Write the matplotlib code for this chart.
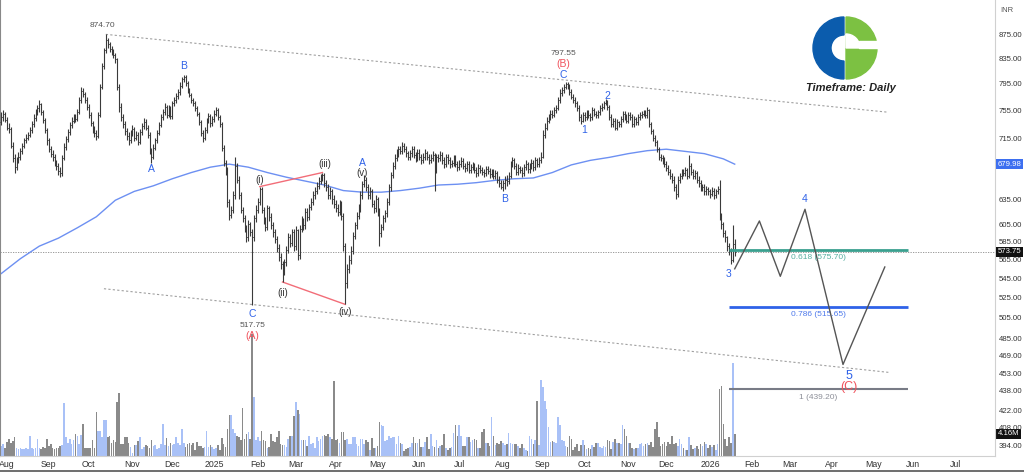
import numpy as np
import pandas as pd
import matplotlib
matplotlib.use("Agg")
import matplotlib.pyplot as plt
import matplotlib.transforms as mtransforms
from matplotlib.patches import Wedge, Rectangle
from matplotlib.lines import Line2D
from matplotlib.ticker import NullLocator

plt.rcParams['font.family'] = ['Liberation Sans', 'DejaVu Sans']

# daily bars, first bar 29 Jul 2024 (business days)
first_day = "2024-07-29"

closes = (
    [745, 750, 741]  # Jul 24
    + [730, 728, 705, 688, 676, 685, 690, 698, 705, 712, 716, 720, 726, 735, 744, 752, 758, 764, 752, 741, 726, 712]
    + [700, 694, 689, 682, 677, 671, 668, 688, 703, 714, 724, 733, 740, 745, 742, 752, 770, 783, 779, 770, 760]
    + [748, 736, 727, 722, 718, 748, 790, 822, 848, 866, 858, 850, 846, 840, 834, 790, 760, 745, 735, 725, 718, 712, 722]
    + [728, 715, 720, 710, 724, 732, 738, 730, 720, 698, 690, 702, 712, 722, 734, 745, 752, 760, 748, 758, 746]
    + [765, 770, 776, 782, 792, 802, 806, 796, 785, 778, 770, 765, 758, 750, 738, 722, 716, 726, 740, 746, 736, 742]
    + [750, 755, 745, 735, 702, 682, 672, 632, 616, 622, 640, 678, 660, 640, 622, 612, 600, 590, 606, 596, 590, 612, 622]
    + [632, 648, 622, 610, 602, 624, 614, 604, 596, 588, 578, 568, 560, 552, 562, 576, 590, 584, 596, 580]
    + [598, 570, 600, 610, 604, 620, 614, 626, 632, 640, 646, 652, 658, 662, 666, 655, 650, 640, 645, 635, 630]
    + [625, 620, 630, 615, 580, 540, 555, 565, 575, 592, 604, 615, 625, 640, 654, 660, 650, 640, 645, 630, 625, 635]
    + [620, 595, 602, 612, 618, 632, 650, 666, 678, 688, 695, 700, 698, 705, 700, 695, 690, 695, 700, 692, 688, 695]
    + [690, 685, 690, 695, 690, 685, 688, 692, 672, 690, 688, 692, 685, 680, 690, 685, 680, 682, 688, 680, 676]
    + [680, 684, 678, 675, 680, 672, 676, 678, 672, 668, 675, 672, 670, 668, 674, 671, 667, 670, 665, 668, 660, 655, 650]
    + [656, 660, 658, 665, 680, 685, 678, 670, 675, 672, 668, 676, 680, 673, 678, 682, 676, 685, 680, 685, 690]
    + [720, 730, 740, 745, 750, 748, 755, 758, 770, 780, 785, 790, 795, 792, 782, 775, 770, 765, 758, 745, 740, 748]
    + [745, 752, 748, 745, 755, 750, 748, 752, 758, 760, 765, 768, 760, 745, 735, 740, 730, 738, 735, 742, 750, 745, 740]
    + [748, 745, 735, 742, 738, 745, 748, 750, 752, 748, 755, 735, 725, 715, 710, 700, 690, 688, 685, 680]
    + [675, 670, 665, 660, 650, 642, 660, 665, 670, 668, 672, 665, 678, 670, 665, 668, 660, 655, 650, 650, 645, 648, 645]
    + [642, 646, 640, 645, 648, 615, 605, 595, 590, 580, 575, 565, 582, 573.75]
)

highs = (
    [752, 756, 752]
    + [745, 736, 731, 710, 694, 690, 696, 702, 709, 716, 721, 724, 731, 740, 749, 757, 763, 770, 766, 756, 744, 730]
    + [716, 705, 699, 694, 686, 681, 676, 692, 708, 718, 728, 738, 745, 750, 750, 757, 775, 790, 788, 782, 774]
    + [764, 752, 740, 732, 726, 752, 795, 827, 852, 874.7, 868, 862, 855, 850, 844, 836, 795, 765, 750, 740, 730, 724, 727]
    + [734, 731, 725, 724, 728, 737, 743, 742, 733, 724, 702, 707, 716, 727, 738, 749, 757, 766, 763, 763, 761]
    + [769, 775, 780, 787, 797, 806, 808, 809, 799, 789, 781, 773, 768, 761, 753, 741, 727, 731, 744, 751, 749, 747]
    + [755, 760, 758, 748, 738, 706, 686, 676, 636, 627, 645, 690, 682, 664, 644, 626, 616, 604, 610, 608, 600, 616, 628]
    + [637, 651, 650, 626, 614, 628, 627, 618, 608, 600, 592, 582, 572, 564, 566, 580, 595, 594, 600, 600]
    + [603, 600, 604, 615, 613, 625, 624, 630, 637, 645, 651, 657, 663, 667, 669, 668, 659, 654, 650, 648, 640]
    + [634, 630, 634, 633, 618, 584, 560, 570, 580, 596, 608, 620, 630, 645, 658, 666, 663, 654, 650, 648, 634, 640]
    + [638, 624, 606, 616, 622, 637, 654, 670, 683, 693, 700, 705, 704, 710, 708, 704, 698, 699, 705, 704, 696, 700]
    + [700, 694, 695, 700, 698, 694, 693, 697, 695, 694, 694, 697, 696, 690, 694, 694, 689, 686, 692, 692, 684]
    + [685, 689, 688, 682, 684, 684, 680, 683, 682, 676, 680, 679, 676, 674, 678, 677, 675, 674, 674, 672, 671, 664, 659]
    + [660, 664, 666, 670, 684, 690, 688, 682, 680, 678, 676, 680, 685, 683, 682, 687, 686, 690, 688, 690, 696]
    + [726, 736, 745, 750, 755, 756, 760, 763, 775, 786, 790, 795, 797.55, 797, 794, 786, 779, 774, 769, 762, 750, 752]
    + [752, 756, 755, 751, 759, 758, 754, 756, 762, 765, 769, 772, 770, 762, 749, 744, 743, 742, 740, 746, 754, 754, 749]
    + [752, 753, 749, 746, 745, 749, 752, 754, 756, 755, 759, 757, 738, 728, 719, 713, 703, 694, 692, 689]
    + [684, 679, 674, 669, 664, 654, 664, 669, 674, 674, 676, 675, 692, 682, 673, 672, 671, 664, 659, 654, 654, 652, 651]
    + [648, 650, 649, 648, 652, 659, 618, 608, 598, 592, 583, 578, 604, 588]
)

lows = (
    [734, 740, 738]
    + [726, 722, 702, 683, 668, 672, 682, 686, 694, 701, 708, 713, 717, 722, 731, 740, 748, 752, 748, 737, 722, 706]
    + [696, 689, 684, 677, 672, 666, 663, 665, 685, 699, 710, 720, 729, 736, 738, 739, 750, 766, 774, 765, 755]
    + [744, 732, 722, 717, 712, 715, 745, 786, 818, 844, 852, 845, 840, 835, 828, 785, 752, 740, 730, 720, 712, 706, 709]
    + [718, 711, 712, 706, 707, 720, 728, 726, 716, 694, 682, 687, 699, 709, 719, 731, 741, 748, 744, 745, 742]
    + [742, 761, 766, 772, 778, 788, 798, 792, 781, 774, 766, 761, 754, 746, 734, 718, 710, 713, 722, 736, 731, 732]
    + [738, 746, 741, 731, 698, 677, 666, 626, 610, 612, 618, 636, 656, 636, 618, 608, 596, 585, 586, 592, 517.75, 586, 608]
    + [618, 628, 618, 605, 597, 598, 609, 600, 590, 583, 573, 563, 555, 541, 548, 558, 572, 579, 580, 575]
    + [576, 565, 566, 596, 599, 600, 609, 610, 622, 628, 636, 642, 648, 654, 658, 650, 645, 636, 636, 630, 625]
    + [620, 615, 616, 610, 575, 518, 535, 550, 560, 571, 588, 600, 611, 620, 636, 650, 645, 635, 636, 626, 618, 620]
    + [615, 580, 590, 598, 608, 614, 628, 646, 662, 674, 684, 690, 693, 694, 696, 690, 685, 686, 690, 688, 683, 684]
    + [686, 680, 681, 686, 686, 680, 682, 684, 646, 668, 683, 684, 680, 675, 676, 680, 675, 676, 678, 676, 671]
    + [672, 676, 674, 670, 671, 668, 668, 672, 668, 663, 664, 668, 666, 663, 664, 667, 662, 663, 661, 661, 656, 650, 648]
    + [646, 648, 652, 654, 662, 676, 674, 666, 666, 668, 663, 664, 672, 669, 668, 674, 671, 672, 676, 676, 681]
    + [688, 716, 726, 736, 741, 743, 745, 751, 756, 766, 776, 781, 786, 787, 778, 771, 765, 760, 754, 740, 735, 738]
    + [740, 741, 744, 740, 741, 746, 744, 744, 748, 754, 757, 762, 756, 741, 731, 731, 726, 727, 731, 731, 738, 741, 736]
    + [736, 741, 731, 731, 734, 734, 741, 744, 746, 744, 744, 731, 721, 711, 705, 696, 686, 684, 680, 676]
    + [671, 666, 661, 655, 645, 636, 638, 656, 661, 664, 664, 661, 662, 666, 661, 661, 656, 651, 646, 645, 640, 641, 641]
    + [637, 639, 636, 637, 642, 610, 600, 590, 585, 575, 570, 560, 562, 569]
)

# volume in millions
volumes = (
    [1.8, 2.2, 1.6]
    + [2.6, 3.3, 2.4, 2.9, 3.5, 1.6, 1.4, 1.5, 1.3, 1.4, 1.6, 1.3, 3.8, 1.5, 1.4, 1.6, 3.2, 1.5, 1.4, 1.7, 1.5, 3.3]
    + [1.8, 2.3, 1.5, 1.4, 1.6, 1.5, 1.8, 2.0, 10.0, 3.5, 2.4, 3.2, 2.3, 3.0, 4.2, 3.8, 2.2, 4.0, 6.1, 1.6, 1.5]
    + [1.5, 1.6, 3.1, 1.6, 8.3, 4.8, 4.8, 3.5, 6.7, 6.7, 3.5, 3.8, 2.4, 3.0, 2.7, 10.1, 11.9, 2.3, 2.2, 3.5, 3.6, 2.4, 1.7]
    + [0.6, 2.0, 2.0, 2.8, 3.5, 1.3, 1.7, 2.0, 1.8, 1.5, 3.0, 1.8, 2.0, 1.4, 1.6, 2.2, 6.0, 2.0, 3.4, 1.8, 2.4]
    + [2.0, 2.2, 3.5, 2.4, 2.0, 5.1, 2.4, 1.7, 2.2, 2.4, 2.0, 2.4, 1.2, 2.6, 1.8, 1.8, 1.5, 1.7, 4.7, 1.7, 2.0, 1.7]
    + [1.3, 1.5, 2.0, 1.2, 3.4, 2.2, 1.7, 5.0, 7.7, 7.7, 5.1, 4.4, 3.8, 3.5, 3.0, 9.0, 3.2, 4.2, 4.6, 3.2, 23.0, 11.2, 3.0]
    + [3.5, 2.8, 4.8, 3.1, 2.8, 1.5, 1.7, 4.2, 2.8, 2.6, 3.5, 4.7, 2.2, 2.0, 2.0, 1.7, 3.2, 3.8, 3.8, 7.5]
    + [10.1, 8.6, 7.9, 3.1, 3.0, 3.0, 1.8, 3.8, 2.2, 2.4, 1.5, 3.5, 2.8, 3.3, 3.8, 4.0, 3.8, 4.2, 3.6, 3.2, 14.1]
    + [3.0, 3.3, 2.5, 4.5, 4.6, 3.0, 3.2, 2.2, 2.2, 3.5, 3.5, 2.2, 1.8, 3.2, 3.3, 2.3, 3.0, 2.6, 1.2, 3.4, 1.5, 1.6]
    + [1.8, 6.5, 5.9, 5.7, 2.8, 3.0, 3.7, 3.4, 3.5, 3.5, 2.2, 3.7, 2.4, 2.2, 1.0, 1.4, 1.5, 1.7, 2.5, 3.5, 2.5, 2.5]
    + [3.2, 1.7, 1.7, 2.6, 3.5, 1.4, 4.2, 1.9, 1.7, 3.0, 1.5, 1.8, 2.0, 4.2, 1.5, 1.1, 1.5, 1.7, 4.4, 5.9, 3.8]
    + [5.8, 3.8, 1.8, 1.8, 3.5, 3.5, 2.6, 3.0, 3.2, 3.0, 1.6, 1.6, 4.6, 5.1, 2.4, 2.4, 1.8, 7.3, 3.8, 2.0, 2.4, 2.2, 2.8]
    + [2.5, 2.0, 2.2, 4.4, 2.4, 2.2, 2.3, 2.2, 1.8, 1.6, 2.2, 1.6, 1.2, 1.0, 3.8, 3.2, 2.2, 3.0, 10.4, 2.0, 14.4]
    + [13.1, 10.3, 8.9, 5.5, 2.6, 2.8, 2.6, 2.4, 7.3, 5.9, 3.0, 2.8, 1.8, 1.7, 3.7, 3.3, 1.2, 1.7, 2.2, 1.0, 2.0, 3.0]
    + [2.0, 1.3, 1.5, 1.3, 2.0, 1.7, 2.4, 2.5, 1.7, 1.5, 1.8, 1.7, 3.0, 2.8, 1.3, 2.6, 3.2, 2.4, 2.5, 2.2, 5.9, 5.1, 3.8]
    + [2.4, 2.4, 1.5, 1.3, 1.5, 1.6, 2.2, 2.4, 1.8, 2.2, 2.4, 2.0, 2.6, 1.7, 5.1, 6.5, 3.5, 1.8, 2.2, 2.6]
    + [1.8, 2.6, 2.2, 3.7, 2.2, 2.4, 1.8, 3.2, 2.2, 1.5, 1.2, 1.2, 3.6, 2.0, 1.4, 1.5, 1.8, 1.3, 2.2, 1.8, 2.6, 2.2, 1.6]
    + [2.0, 1.7, 2.0, 1.2, 2.2, 12.7, 13.2, 6.1, 3.3, 1.8, 3.6, 2.5, 17.5, 4.16]
)

# moving average read every 10 bars, plus the last bar
ma_step = 10
ma_values = [550, 566, 580, 589, 601, 614, 634, 645, 652, 661,
             669, 676, 680, 676, 669, 663, 658, 653, 646, 644,
             644, 646, 649, 653, 654, 656, 659, 661, 662, 669,
             679, 685, 689, 694, 698, 700, 697, 694, 687, 679.98]

# channel lines
upper_channel = (["2024-10-14", "2026-05-13"], [874.7, 752])
lower_channel = (["2024-10-11", "2026-05-13"], [534, 454])

# red wave guide lines
red_line_1 = (["2025-02-04", "2025-03-21"], [651, 669])
red_line_2 = (["2025-02-20", "2025-04-08"], [541, 518])

# projected path
proj_dates = ["2026-01-20", "2026-02-06", "2026-02-23", "2026-03-12", "2026-04-09", "2026-05-11"]
proj_prices = [555, 609, 547, 623, 461, 557]

# fibonacci levels
fib_span = ("2026-01-15", "2026-05-27")
fib_levels = [575.70, 515.65, 439.20]
fib_names = ["0.618 (575.70)", "0.786 (515.65)", "1 (439.20)"]

# 675 sits under the moving-average box, so it is left out
price_ticks = [875, 835, 795, 755, 715, 635, 605, 585, 565, 545, 525,
               505, 485, 469, 453, 438, 422, 408, 394]

BLUE = "#2f62e8"
RED = "#f0525c"
DARK = "#333333"
GREY = "#555555"

wave_labels = [
    ("874.70", "2024-10-10", 890, GREY, 6),
    ("B", "2024-12-10", 822, BLUE, 7.5),
    ("A", "2024-11-15", 673, BLUE, 7.5),
    ("C", "2025-01-29", 508, BLUE, 7.5),
    ("517.75", "2025-01-29", 497, GREY, 6),
    ("(A)", "2025-01-29", 487, RED, 7.5),
    ("(i)", "2025-02-04", 659, DARK, 7),
    ("(ii)", "2025-02-20", 530, DARK, 7),
    ("(iii)", "2025-03-24", 680, DARK, 7),
    ("(iv)", "2025-04-08", 510, DARK, 7),
    ("(v)", "2025-04-21", 668, DARK, 7),
    ("A", "2025-04-21", 682, BLUE, 7.5),
    ("B", "2025-08-04", 636, BLUE, 7.5),
    ("797.55", "2025-09-16", 843, GREY, 6),
    ("(B)", "2025-09-16", 826, RED, 7.5),
    ("C", "2025-09-16", 808, BLUE, 7.5),
    ("1", "2025-10-01", 726, BLUE, 7.5),
    ("2", "2025-10-17", 776, BLUE, 7.5),
    ("3", "2026-01-15", 549, BLUE, 7.5),
    ("4", "2026-03-12", 635, BLUE, 7.5),
    ("5", "2026-04-14", 451, BLUE, 9),
    ("(C)", "2026-04-14", 441, RED, 9),
]

# ---- drawing ----
n = len(closes)
days = pd.bdate_range(first_day, "2026-09-30")
idx = np.arange(n)
opens = [closes[0] - 7] + closes[:-1]   # open taken as previous close


def pos(d):
    return days.get_loc(pd.Timestamp(d))


fig = plt.figure(figsize=(10.24, 4.72), dpi=100)
rect = [0, 16 / 472, 995 / 1024, 456 / 472]

ax_vol = fig.add_axes(rect)
vcol = ["#a9c1f7" if c >= o else "#8a8a8a" for o, c in zip(opens, closes)]
ax_vol.bar(idx, volumes, width=0.85, color=vcol, linewidth=0)
ax_vol.set_ylim(0, 86)
ax_vol.set_xlim(-0.7, 523)
ax_vol.axis("off")

ax = fig.add_axes(rect)
ax.patch.set_alpha(0)
ax.set_yscale("log")
ax.set_ylim(386, 935)
ax.set_xlim(-0.7, 523)

# ohlc bars
ax.vlines(idx, lows, highs, color="#3a3a3a", lw=0.8, zorder=3)
ax.hlines(opens, idx - 0.5, idx, color="#3a3a3a", lw=0.7, zorder=3)
ax.hlines(closes, idx, idx + 0.5, color="#3a3a3a", lw=0.7, zorder=3)

# moving average
ma_x = list(range(0, n, ma_step))[:len(ma_values) - 1] + [n - 1]
ax.plot(ma_x, ma_values, color="#6d90f2", lw=1, zorder=2)

# channel
for dates, prices in (upper_channel, lower_channel):
    ax.plot([pos(d) for d in dates], prices, color="#a0a0a0", lw=0.8,
            ls=(0, (2, 2)), zorder=1)

# current price line
ax.axhline(closes[-1], color="#8a8a8a", lw=0.6, ls=(0, (1.5, 1.5)), zorder=1)

for dates, prices in (red_line_1, red_line_2):
    ax.plot([pos(d) for d in dates], prices, color="#f26d78", lw=1, zorder=2)

ax.plot([pos(d) for d in proj_dates], proj_prices, color=GREY, lw=1, zorder=4)

# fib levels
fib_colors = ["#3aa08f", "#2f62e8", "#787b86"]
fib_widths = [2, 2, 1.5]
f0, f1 = pos(fib_span[0]), pos(fib_span[1])
for lvl, name, c, w in zip(fib_levels, fib_names, fib_colors, fib_widths):
    ax.hlines(lvl, f0, f1, color=c, lw=w, zorder=3)
    ax.annotate(name, xy=((f0 + f1) / 2, lvl), xytext=(0, -5.5),
                textcoords="offset points", ha="center", va="center",
                fontsize=6, color=c, alpha=0.85)

for text, d, p, c, fs in wave_labels:
    ax.text(pos(d), p, text, color=c, fontsize=fs, ha="center", va="center", zorder=6)

# axes styling
ax.yaxis.tick_right()
ax.set_yticks(price_ticks)
ax.set_yticklabels([f"{t:.2f}" for t in price_ticks])
ax.yaxis.set_minor_locator(NullLocator())
ax.tick_params(axis="y", length=0, pad=2.5, labelsize=5.6, labelcolor=DARK)

months = pd.date_range("2024-08-01", "2026-07-01", freq="MS")
ax.set_xticks([days.searchsorted(m) for m in months])
ax.set_xticklabels([str(m.year) if m.month == 1 else m.strftime("%b") for m in months])
ax.tick_params(axis="x", length=0, pad=3, labelsize=6.3, labelcolor=DARK)

ax.spines["top"].set_visible(False)
ax.spines["right"].set_color("#d0d0d0")
ax.spines["bottom"].set_color("#d0d0d0")
ax.spines["left"].set_color("#888888")

# value boxes on the price scale
tr = mtransforms.blended_transform_factory(ax.transAxes, ax.transData)
box = dict(fontsize=5.6, va="center", ha="left", clip_on=False, zorder=7, color="white")
ax.text(1.003, ma_values[-1], f"{ma_values[-1]:.2f}", transform=tr,
        bbox=dict(boxstyle="square,pad=0.2", fc="#3d6ff0", ec="none"), **box)
ax.text(1.003, closes[-1], f"{closes[-1]:.2f}", transform=tr,
        bbox=dict(boxstyle="square,pad=0.2", fc="#111111", ec="none"), **box)
trv = mtransforms.blended_transform_factory(ax_vol.transAxes, ax_vol.transData)
ax_vol.text(1.003, volumes[-1], f"{volumes[-1]:.2f}M", transform=trv,
            bbox=dict(boxstyle="square,pad=0.2", fc="#111111", ec="none"), **box)

fig.text(1007 / 1024, 1 - 10 / 472, "INR", fontsize=5.5, color=GREY, ha="center", va="center")
fig.add_artist(Line2D([0, 1], [1.5 / 472, 1.5 / 472], color="#555555", lw=1.2))

# logo
lg = fig.add_axes([810 / 1024, 1 - 83 / 472, 70 / 1024, 70 / 472])
lg.set_xlim(-35, 35)
lg.set_ylim(-35, 35)
lg.set_aspect("equal")
lg.axis("off")
lg.add_patch(Wedge((-1, 0), 31, 90, 270, width=18, color="#0b5cad"))
lg.add_patch(Wedge((1, 0), 31, -90, 90, color="#7cc142"))
lg.add_patch(Wedge((1, 0), 14, 0, 90.5, color="white"))
lg.add_patch(Rectangle((14, 0), 20, 7, color="white"))

fig.text(851 / 1024, 1 - 88 / 472, "Timeframe: Daily", fontsize=8, style="italic",
         fontweight="semibold", color="#222222", ha="center", va="center")

fig.savefig("out.png", dpi=100)
